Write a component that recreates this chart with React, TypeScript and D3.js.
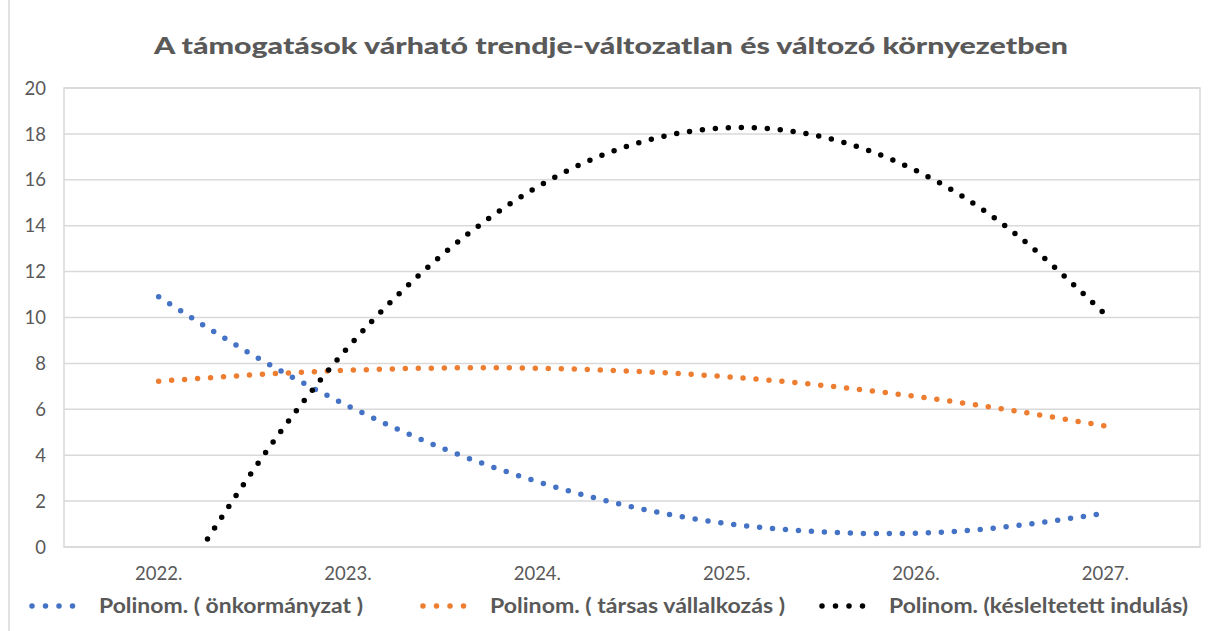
import * as d3 from "d3";

// category labels on the x axis
const years = ["2022.", "2023.", "2024.", "2025.", "2026.", "2027."];
const yTicks = [0, 2, 4, 6, 8, 10, 12, 14, 16, 18, 20];

// trendline values every half year
const trendX = [2022, 2022.5, 2023, 2023.5, 2024, 2024.5, 2025, 2025.5, 2026, 2026.5, 2027];
const onkormanyzat = [10.9, 8.35, 6.15, 4.3, 2.85, 1.75, 1.02, 0.66, 0.6, 0.9, 1.48];
const tarsas = [7.22, 7.5, 7.7, 7.8, 7.79, 7.66, 7.42, 7.05, 6.56, 5.96, 5.27];
const kesleltetett = [-3.0, 3.35, 8.7, 12.75, 15.69, 17.53, 18.26, 17.88, 16.4, 13.81, 10.13];

const seriesNames = [
  "Polinom. ( önkormányzat )",
  "Polinom. ( társas vállalkozás )",
  "Polinom. (késleltetett indulás)",
];
const seriesColors = ["#4472c4", "#ed7d31", "#000000"];
const seriesValues = [onkormanyzat, tarsas, kesleltetett];

const W = 1220;
const H = 631;
const left = 64;
const right = 1200;
const top = 88;
const bottom = 547;
const font = "Lato, 'Open Sans', sans-serif";
const textColor = "#595959";
const gridColor = "#d9d9d9";

export default function App() {
  const x = d3.scaleBand().domain(years).range([left, right]);
  // numeric x for the trend curves, lined up with the band centres
  const xNum = d3
    .scaleLinear()
    .domain([2021.5, 2021.5 + years.length])
    .range([left, right]);
  const y = d3.scaleLinear().domain([0, 20]).range([bottom, top]);

  const line = d3
    .line<number>()
    .x((_, i) => xNum(trendX[i]))
    .y((d) => y(d))
    .curve(d3.curveNatural);

  // legend layout (x of the dots, width of the label)
  const legendX = [32, 423, 822];
  const legendW = [264, 295, 299];

  return (
    <div style={{ position: "absolute", left: 0, top: 0 }}>
      <svg width={W} height={H} style={{ display: "block", background: "#fff" }}>
        <defs>
          <clipPath id="plot">
            <rect x={left} y={top} width={right - left} height={bottom - top} />
          </clipPath>
        </defs>
        {/* outer chart border, only its left edge is in frame */}
        <line x1={9} x2={9} y1={0} y2={H} stroke={gridColor} strokeWidth={1.5} />

        <text
          x={611}
          y={54}
          textAnchor="middle"
          fontFamily={font}
          fontWeight="900"
          fontSize={23}
          fill={textColor}
          textLength={914}
          lengthAdjust="spacingAndGlyphs"
        >
          A támogatások várható trendje-változatlan és változó környezetben
        </text>

        {yTicks.map((t) => (
          <g key={t}>
            <line x1={left} x2={right} y1={y(t)} y2={y(t)} stroke={gridColor} strokeWidth={1.5} />
            <text
              x={46}
              y={y(t)}
              dy="0.36em"
              textAnchor="end"
              fontFamily={font}
              fontSize={18.5}
              fill={textColor}
            >
              {t}
            </text>
          </g>
        ))}
        <rect
          x={left}
          y={top}
          width={right - left}
          height={bottom - top}
          fill="none"
          stroke={gridColor}
          strokeWidth={1.5}
        />

        {years.map((yr) => (
          <text
            key={yr}
            x={(x(yr) ?? 0) + x.bandwidth() / 2}
            y={580}
            textAnchor="middle"
            fontFamily={font}
            fontSize={18.5}
            fill={textColor}
          >
            {yr}
          </text>
        ))}

        <g clipPath="url(#plot)">
          {seriesValues.map((vals, i) => (
            <path
              key={seriesNames[i]}
              d={line(vals) ?? ""}
              fill="none"
              stroke={seriesColors[i]}
              strokeWidth={5.5}
              strokeLinecap="round"
              strokeDasharray="0 13"
            />
          ))}
        </g>

        {seriesNames.map((name, i) => (
          <g key={name} transform={`translate(${legendX[i]},606)`}>
            <line
              x1={0}
              x2={54}
              y1={0}
              y2={0}
              stroke={seriesColors[i]}
              strokeWidth={5.5}
              strokeLinecap="round"
              strokeDasharray="0 13.5"
            />
            <text
              x={67}
              y={0}
              dy="0.36em"
              fontFamily={font}
              fontWeight="bold"
              fontSize={20.5}
              fill={textColor}
              textLength={legendW[i]}
              lengthAdjust="spacingAndGlyphs"
            >
              {name}
            </text>
          </g>
        ))}
      </svg>
    </div>
  );
}
